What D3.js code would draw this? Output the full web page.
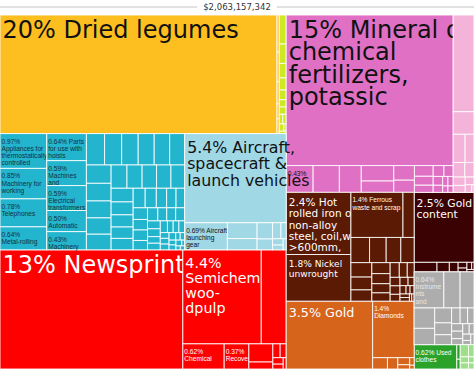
<!DOCTYPE html>
<html>
<head>
<meta charset="utf-8">
<script src="https://cdn.jsdelivr.net/npm/d3@7"></script>
<style>
  body { margin: 0; background: #fff; }
</style>
</head>
<body>
<svg id="treemap" width="474" height="385"></svg>
<script>
// export total shown above the map
const totalLabel = "$2,063,157,342";

// sectors in drawing order (HS order), with fill and label colours
const sectors = ["veg", "food", "minerals", "chem", "plastics", "paper", "textiles",
  "precious", "metals", "machinery", "transport", "instruments", "misc"];
const sectorColors = ["#fdbf1f", "#cfe823", "#3a0202", "#e070c4", "#f4b4da", "#ff0000", "#2ba32b",
  "#d6641b", "#5a1a04", "#22b5cd", "#a0d8e6", "#adadad", "#9ee08a"];
const sectorInk = ["#111", "#111", "#fff", "#111", "#111", "#fff", "#fff",
  "#fff", "#fff", "#15313d", "#111", "#e6e6e6", "#111"];

// product shares (% of total), largest first; names only where a label is shown
const vegValues = [19.6, 0.05, 0.04, 0.03, 0.02, 0.02];
const vegNames = ["Dried legumes"];

const foodValues = [0.12, 0.08, 0.06, 0.05, 0.04, 0.03, 0.03, 0.02, 0.02, 0.02, 0.01, 0.01];
const foodNames = [];

const mineralValues = [2.5, 0.13, 0.07, 0.05, 0.03, 0.02, 0.02, 0.01, 0.01];
const mineralNames = ["Gold|content"];

const chemValues = [15, 0.43, 0.42, 0.35, 0.3, 0.22, 0.18, 0.15, 0.12, 0.1, 0.08, 0.07,
  0.06, 0.05, 0.04, 0.03, 0.03, 0.02, 0.02];
const chemNames = ["Mineral or|chemical|fertilizers,|potassic", ""];

const plasticValues = [1.2, 0.28, 0.2, 0.15, 0.1, 0.08, 0.06, 0.05, 0.04, 0.03, 0.01];
const plasticNames = [];

const paperValues = [13, 4.4, 1.4, 0.62, 0.37, 0.26, 0.1, 0.06, 0.05, 0.04, 0.03, 0.02];
const paperNames = ["Newsprint", "|Semichem|woo-|dpulp", null, "|Chemical", "|Recovered"];

const textileValues = [0.62, 0.03, 0.02];
const textileNames = ["Used|clothes"];

const preciousValues = [3.5, 1.4, 0.1, 0.07, 0.05, 0.03, 0.02, 0.01];
const preciousNames = ["Gold", "|Diamonds"];

const metalValues = [2.4, 1.8, 1.4, 0.3, 0.28, 0.25, 0.22, 0.2, 0.18, 0.16, 0.14, 0.12, 0.11,
  0.1, 0.09, 0.08, 0.07, 0.06, 0.05, 0.05, 0.04, 0.04, 0.03, 0.03, 0.02, 0.02, 0.02, 0.02, 0.01, 0.01];
const metalNames = ["Hot|rolled iron or|non-alloy|steel, coil,w|>600mm,", "Nickel|unwrought", "Ferrous|waste and scrap"];

const machineryValues = [0.97, 0.85, 0.78, 0.64, 0.64, 0.59, 0.59, 0.5, 0.43,
  0.34, 0.32, 0.31, 0.3, 0.29, 0.28, 0.27, 0.26, 0.25, 0.24, 0.23, 0.22, 0.21, 0.2, 0.2,
  0.19, 0.18, 0.17, 0.16, 0.15, 0.15, 0.14, 0.13, 0.12, 0.11, 0.1, 0.1, 0.09, 0.09, 0.08,
  0.08, 0.07, 0.07, 0.07, 0.06, 0.06, 0.05, 0.05, 0.05, 0.04, 0.04, 0.04, 0.03, 0.03, 0.03,
  0.03, 0.02, 0.02, 0.02, 0.02, 0.02, 0.01, 0.01, 0.01];
const machineryNames = ["|Appliances for|thermostatically|controlled", "|Machinery for|working",
  "|Telephones", "|Metal-rolling", "Parts|for use with|hoists", "|Machines|and",
  "|Electrical|transformers", "|Automatic", "|Machinery"];

const transportValues = [5.4, 0.69, 0.28, 0.2, 0.15, 0.1, 0.08, 0.05, 0.04, 0.03, 0.02];
const transportNames = ["Aircraft,|spacecraft &|launch vehicles", "Aircraft|launching|gear"];

const instrumentValues = [0.64, 0.35, 0.3, 0.25, 0.2, 0.15, 0.12, 0.1, 0.08, 0.07, 0.06,
  0.05, 0.05, 0.04, 0.04, 0.03, 0.03, 0.02, 0.02];
const instrumentNames = ["|Instrume|nts|and"];

const miscValues = [0.06, 0.04, 0.03, 0.03, 0.02, 0.02];
const miscNames = [];

// how sectors are grouped into columns and rows
const layoutPlan = [
  [["veg", "food"], ["machinery", "transport"], "paper"],
  [["chem", "plastics"], [["metals", "precious"], ["minerals", "instruments", ["textiles", "misc"]]]]
];

const sectorValues = {
  veg: vegValues, food: foodValues, minerals: mineralValues, chem: chemValues,
  plastics: plasticValues, paper: paperValues, textiles: textileValues, precious: preciousValues,
  metals: metalValues, machinery: machineryValues, transport: transportValues,
  instruments: instrumentValues, misc: miscValues
};
const sectorNames = {
  veg: vegNames, food: foodNames, minerals: mineralNames, chem: chemNames,
  plastics: plasticNames, paper: paperNames, textiles: textileNames, precious: preciousNames,
  metals: metalNames, machinery: machineryNames, transport: transportNames,
  instruments: instrumentNames, misc: miscNames
};

const svg = d3.select("#treemap");
const width = 474, mapTop = 15, mapHeight = 354;

// title with rules either side
const title = svg.append("text")
  .attr("x", width / 2)
  .attr("y", 10)
  .attr("text-anchor", "middle")
  .style("font-family", "DejaVu Sans")
  .style("font-size", "8.5px")
  .style("fill", "#333")
  .text(totalLabel);
const tw = title.node().getComputedTextLength();
svg.append("line")
  .attr("x1", 0).attr("x2", width / 2 - tw / 2 - 6)
  .attr("y1", 7).attr("y2", 7)
  .attr("stroke", "#c4c4c4");
svg.append("line")
  .attr("x1", width / 2 + tw / 2 + 6).attr("x2", width)
  .attr("y1", 7).attr("y2", 7)
  .attr("stroke", "#c4c4c4");

function build(p) {
  if (Array.isArray(p)) return { children: p.map(build) };
  const names = sectorNames[p];
  return {
    sector: p,
    children: sectorValues[p].map((v, i) => ({ sector: p, name: names[i], value: v, rank: i }))
  };
}

const root = d3.hierarchy(build(layoutPlan))
  .sum(d => d.children ? 0 : d.value);

// groups alternate dice / slice, products inside a sector are squarified
const tile = (node, x0, y0, x1, y1) => {
  if (node.data.sector) d3.treemapSquarify(node, x0, y0, x1, y1);
  else (node.depth % 2 ? d3.treemapSlice : d3.treemapDice)(node, x0, y0, x1, y1);
};

d3.treemap().tile(tile).size([width, mapHeight])(root);

const leaves = root.leaves().sort((a, b) =>
  sectors.indexOf(a.data.sector) - sectors.indexOf(b.data.sector) || a.data.rank - b.data.rank);

const g = svg.append("g").attr("transform", `translate(0,${mapTop})`);

const pct = v => (v >= 10 ? d3.format(".0f") : v >= 1 ? d3.format(".1f") : d3.format(".2f"))(v);

const cells = g.selectAll("g.cell")
  .data(leaves)
  .join("g")
  .attr("class", "cell");

cells.append("rect")
  .attr("x", d => d.x0)
  .attr("y", d => d.y0)
  .attr("width", d => Math.max(0, d.x1 - d.x0))
  .attr("height", d => Math.max(0, d.y1 - d.y0))
  .attr("fill", d => sectorColors[sectors.indexOf(d.data.sector)])
  .attr("stroke", "#fff")
  .attr("stroke-opacity", 0.85)
  .attr("stroke-width", 1);

cells.filter(d => d.data.name != null).each(function (d) {
  const v = d.data.value;
  const big = v >= 1.5;
  const fs = big ? Math.min(24, 6.8 * Math.sqrt(v)) : 6.6;
  const lh = fs * (fs >= 20 ? 0.94 : big ? 1.05 : 1.1);
  const lines = (pct(v) + "% " + d.data.name).split("|");
  const x = d.x0 + (big ? 2.5 : 1.5);
  const t = d3.select(this).append("text")
    .attr("x", x)
    .attr("y", d.y0 + (fs >= 20 ? fs * 0.95 : fs + 3.5))
    .style("font-family", big ? "DejaVu Sans" : "Liberation Sans, Arial")
    .style("font-size", fs + "px")
    .style("fill", sectorInk[sectors.indexOf(d.data.sector)]);
  t.selectAll("tspan")
    .data(lines)
    .join("tspan")
    .attr("x", x)
    .attr("dy", (l, i) => i ? lh : 0)
    .text(l => l);
});
</script>
</body>
</html>
